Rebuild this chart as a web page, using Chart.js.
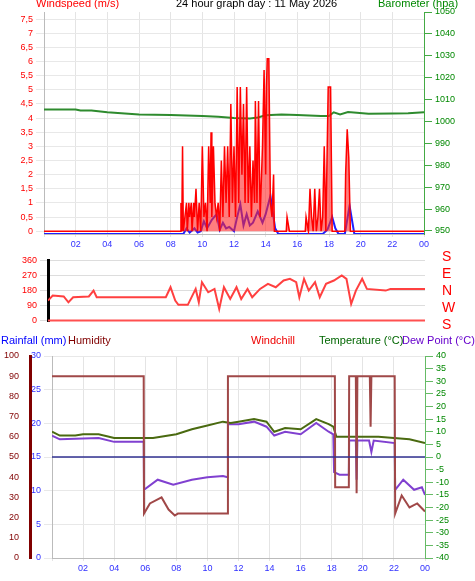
<!DOCTYPE html>
<html lang="en">
<head>
<meta charset="UTF-8" />
<script src="https://cdn.jsdelivr.net/npm/chart.js"></script>
<title>24 hour graph</title>
<style>
  body { margin: 0; background: #fff; font-family: "Liberation Sans", Arial, sans-serif; }
  #wrap { position: relative; width: 475px; height: 581px; overflow: hidden; }
  #wrap canvas { position: absolute; left: 0; }
  .lbl { position: absolute; font-size: 11px; white-space: nowrap; }
  .cmp { position: absolute; left: 442px; font-size: 14px; color: #f00; }
</style>
</head>
<body>
<div id="wrap">
  <canvas id="c1" style="top:0px"></canvas>
  <canvas id="c2" style="top:252px"></canvas>
  <canvas id="c3" style="top:340px"></canvas>
  <div class="lbl" style="left:36px;top:-3px;color:#f00">Windspeed (m/s)</div>
  <div class="lbl" style="left:176px;top:-3px;color:#000">24 hour graph day : 11 May 2026</div>
  <div class="lbl" style="left:378px;top:-3px;color:#080">Barometer (hpa)</div>
  <div class="lbl" style="left:1px;top:334px;color:#00f">Rainfall (mm)</div>
  <div class="lbl" style="left:68px;top:334px;color:#800000">Humidity</div>
  <div class="lbl" style="left:251px;top:334px;color:#e00">Windchill</div>
  <div class="lbl" style="left:319px;top:334px;color:#060">Temperature (°C)</div>
  <div class="lbl" style="left:402px;top:334px;color:#60c">Dew Point (°C)</div>
  <div class="cmp" style="top:248px">S</div>
  <div class="cmp" style="top:265px">E</div>
  <div class="cmp" style="top:282px">N</div>
  <div class="cmp" style="top:299px">W</div>
  <div class="cmp" style="top:316px">S</div>
</div>
<script>
// --- data (hours 0..24) ---
const gustH = [0,8.6,8.65,8.7,8.75,8.8,8.9,9.0,9.05,9.15,9.2,9.3,9.35,9.45,9.5,9.6,9.7,9.8,9.9,10.0,10.1,10.2,10.3,10.4,10.5,10.55,10.6,10.7,10.8,10.9,11.0,11.1,11.2,11.3,11.4,11.5,11.6,11.7,11.8,11.9,12.0,12.1,12.2,12.3,12.4,12.5,12.6,12.7,12.8,12.9,13.0,13.1,13.2,13.3,13.35,13.45,13.55,13.65,13.8,13.9,14.0,14.05,14.1,14.2,14.3,14.4,14.5,14.55,15.3,15.35,15.5,16.5,16.55,16.7,16.8,16.9,17.0,17.1,17.2,17.3,17.4,17.5,17.6,17.7,17.8,17.95,18.1,18.2,19.0,19.05,19.15,19.25,19.35,24];
const gustV = [0,0,1,0,3,0,0.5,1,0,1,0.5,1,0,1,0.5,1.5,0,1,0,3,0.5,1,0,3,1,3.5,0.5,3,1,0.5,1,0,2.5,0.5,3,1,3,0.5,4.5,1,3,0.5,5.1,1,5.1,2,4.5,1,5.1,1,3,0.5,2.5,1,4.6,1,4.6,0.5,3,5.7,2,5.1,6.1,6.1,1,0.5,2,0,0,0.5,0,0,0.5,0,1.5,0.5,0,1.5,0,0.5,1.5,0,0.5,3,0,5.1,5.1,0,0,2,3.6,2.6,0,0];
const avgH = [0,8.8,9.0,9.2,9.5,9.7,9.9,10.1,10.3,10.6,10.9,11.1,11.3,11.5,11.7,12.0,12.2,12.4,12.6,12.8,13.0,13.2,13.5,13.8,14.0,14.3,14.6,14.8,17.6,17.9,18.2,18.4,18.6,19.0,19.3,19.6,24];
const avgV = [-0.1,-0.1,0.1,-0.05,0.1,-0.05,0,0.35,0.1,0.4,0.6,0.05,0.3,0.1,0.15,0,0.5,0.95,0.2,0.6,0.2,0.3,0.7,0.3,0.6,1.25,0.1,-0.1,-0.1,0.05,0.5,0.1,-0.1,-0.1,0.9,-0.1,-0.1];
const baroH = [0,2,2.3,3,4,6,8,10,11,12,13,13.5,14,15,16,17.5,18,18.3,18.7,19.2,20.5,22,23,24];
const baroV = [1005.5,1005.5,1005,1005,1004.2,1003.2,1003,1002.5,1002.2,1001.6,1001.4,1001.8,1002.8,1003.2,1003,1002.5,1002.5,1004.2,1003.2,1004.3,1003.5,1003.6,1003.8,1004.2];
const dirH = [0,0.3,1.0,1.3,1.6,2.6,2.9,3.1,7.5,7.8,8.1,8.3,8.9,9.4,9.6,9.8,10.2,10.6,10.9,11.2,11.6,12.0,12.3,12.7,13.0,13.5,14.0,14.5,15.0,15.4,15.8,16.0,16.3,16.6,17.0,17.3,17.7,18.2,18.7,19.0,19.3,19.6,20.0,20.3,21.5,21.8,24];
const dirV = [120,150,145,110,140,145,180,140,140,200,120,95,95,190,110,230,170,190,70,200,130,200,130,190,140,190,220,200,240,250,230,140,250,180,230,140,220,240,270,250,100,180,250,190,180,190,190];
const humH = [0,5.9,5.92,6.3,7.05,7.5,7.9,8.1,11.3,11.32,18.2,18.22,19.1,19.12,19.55,19.6,19.65,20.45,20.5,20.55,22.05,22.08,22.5,23.0,23.5,24];
const humV = [90,90,22,27,30,24,21,22,22,90,90,35,35,90,90,32,90,90,65,90,90,22,31,25,27,23];
const tempH = [0,0.5,1.5,2,3,4,6,6.5,8,9,10,11,11.5,12,13,13.8,14.3,15,16,17,17.8,18.1,18.3,21,23,24];
const tempV = [10,8.5,8.5,9,9,7.5,7.5,7.5,9,11,12.5,14,13.5,14,15,14,10,11.5,11,15,13,12,8,8,7,5.5];
const dewH = [0,0.5,3,4,5.9,5.92,6.8,7.8,9,10,11,11.3,11.32,12,13,13.8,14.3,15,16,17,17.8,18.1,18.15,18.5,19.1,19.12,19.55,19.6,19.65,20.4,20.55,20.7,22.05,22.08,22.6,23.3,23.8,24];
const dewV = [8.5,7,7.5,6,6,-13,-9,-11,-9,-8,-7.5,-8,13,13,14,12,8.5,10,9,13.5,10,9,-6,-7,-7,6.5,6.5,-9,6.5,6.5,2,6.5,5.5,-13,-9,-13,-12,-15];
const rainH = [0,18.2,18.3,18.5,18.9,19.3,23.95,24];
const rainV = [0,0,1.5,2.5,2.5,4,4,0];
const hourTicks = [2,4,6,8,10,12,14,16,18,20,22,24];

const xy = (h, v) => h.map((x, i) => ({ x, y: v[i] }));
const tickFont = { family: 'Liberation Sans', size: 9 };
const hourLabel = v => (v % 2 === 0 && v > 0) ? String(v % 24).padStart(2, '0') : '';
function fixW(w) { return s => { s.width = w; }; }
function fixH(h) { return s => { s.height = h; }; }
function setTicks(list) { return s => { s.ticks = list.map(value => ({ value })); }; }
function xAxis(show, h) {
  return {
    type: 'linear', min: 0, max: 24, display: true,
    afterBuildTicks: setTicks([0, ...hourTicks]),
    ticks: { display: show, autoSkip: false, color: '#3030ff', font: tickFont, callback: hourLabel, maxRotation: 0, padding: 2 },
    grid: { color: '#e4e4e4', tickLength: 3 },
    border: { color: '#bbb' },
    afterFit: fixH(h)
  };
}
const range = (a, b, st) => { const r = []; for (let v = a; v <= b + 1e-9; v += st) r.push(+v.toFixed(2)); return r; };
const line = (data, color, axis, extra) => Object.assign({ data, borderColor: color, borderWidth: 2, pointRadius: 0, yAxisID: axis, tension: 0 }, extra || {});
const base = (padding) => ({ responsive: false, animation: false, plugins: { legend: { display: false }, tooltip: { enabled: false } }, layout: { padding } });
function mk(id, w, h) { const c = document.getElementById(id); c.width = w; c.height = h; return c; }

// top: wind + barometer
new Chart(mk('c1', 475, 250), {
  type: 'line',
  data: { datasets: [
    line(xy(gustH, gustV), '#ff0000', 'y', { fill: 'origin', backgroundColor: 'rgba(255,40,40,0.6)', borderWidth: 1.5 }),
    line(xy(avgH, avgV), '#2020ff', 'y'),
    line(xy(baroH, baroV), '#2e8b2e', 'y1')
  ] },
  options: Object.assign(base({ top: 12, left: 0, right: 0, bottom: 0 }), { scales: {
    x: xAxis(true, 16),
    y: { position: 'left', min: -0.1, max: 7.75, afterBuildTicks: setTicks(range(0, 7.5, 0.5)),
         ticks: { autoSkip: false, color: '#f00', font: tickFont, callback: v => String(v).replace('.', ',') },
         grid: { color: '#e8e8e8' }, border: { color: '#bbb' }, afterFit: fixW(44) },
    y1: { position: 'right', min: 948.6, max: 1050, afterBuildTicks: setTicks(range(950, 1050, 10)),
          ticks: { autoSkip: false, color: '#080', font: tickFont, callback: v => String(v) },
          grid: { drawOnChartArea: false, color: '#4a4' }, border: { color: '#4a4' }, afterFit: fixW(51) }
  } })
});

// middle: wind direction
new Chart(mk('c2', 475, 78), {
  type: 'line',
  data: { datasets: [
    line(xy(dirH, dirV), '#ff4040', 'y'),
    line(xy([0, 24], [0, 0]), '#ff5050', 'y', { borderWidth: 2.5 })
  ] },
  options: Object.assign(base({ top: 0, bottom: 0, left: 0, right: 50 }), { scales: {
    x: { type: 'linear', min: 0, max: 24, display: false },
    y: { position: 'left', min: -5, max: 360, afterBuildTicks: setTicks([0, 90, 180, 270, 360]),
         ticks: { autoSkip: false, color: '#f00', font: tickFont }, grid: { color: '#ddd' }, border: { color: '#000', width: 3 }, afterFit: fixW(48) }
  } })
});

// bottom: rain, humidity, temperature, dew point
new Chart(mk('c3', 475, 240), {
  type: 'line',
  data: { datasets: [
    line(xy([0, 24], [0, 0]), '#303090', 't', { borderWidth: 1.5 }),
    line(xy(humH, humV), '#a04848', 'h'),
    line(xy(tempH, tempV), '#4a6a10', 't'),
    line(xy(dewH, dewV), '#8040d0', 't'),
    line(xy(rainH, rainV), '#0020ff', 'r', { borderWidth: 2.5 }),
    line(xy([4.6, 4.6], [0, 1.6]), '#f8a080', 'r', { borderWidth: 1.5 }),
    line(xy([22.05, 22.05], [0, 1.6]), '#f8a080', 'r', { borderWidth: 1.5 })
  ] },
  options: Object.assign(base({ top: 16, left: 0, right: 0, bottom: 2 }), { scales: {
    x: xAxis(true, 20),
    r: { position: 'left', min: 0, max: 30, afterBuildTicks: setTicks(range(0, 30, 5)),
         ticks: { autoSkip: false, color: '#3030ff', font: tickFont }, grid: { color: '#e8e8e8' }, border: { color: '#bbb' }, afterFit: fixW(22) },
    h: { position: 'left', min: 0, max: 100, afterBuildTicks: setTicks(range(0, 100, 10)),
         ticks: { autoSkip: false, color: '#800000', font: tickFont }, grid: { display: false }, border: { color: '#800000', width: 3 }, afterFit: fixW(30) },
    t: { position: 'right', min: -40, max: 40, afterBuildTicks: setTicks(range(-40, 40, 5)),
         ticks: { autoSkip: false, color: '#080', font: tickFont }, grid: { drawOnChartArea: false, color: '#6b6' }, border: { color: '#6b6' }, afterFit: fixW(50) }
  } })
});
</script>
</body>
</html>
